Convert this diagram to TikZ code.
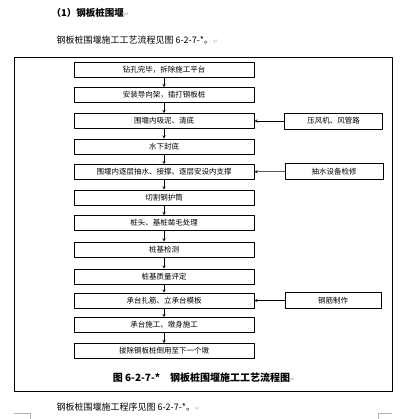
\documentclass[tikz,border=0pt]{standalone}
\usepackage{fontspec}
\setmainfont{Noto Sans CJK SC}
\newfontfamily\markfont{DejaVu Sans}
\newcommand{\retmark}{{\color{gray!60}\markfont\fontsize{6}{6}\selectfont ↵}}
\tikzset{
  flowbox/.style={draw,line width=0.6pt,minimum width=180pt,minimum height=15pt,inner sep=0pt,
    font=\fontsize{7.5}{8}\selectfont},
  sidebox/.style={draw,line width=0.6pt,minimum width=98pt,minimum height=16pt,inner sep=0pt,
    font=\fontsize{7.5}{8}\selectfont},
  flowarrow/.style={->,>=stealth,line width=0.5pt}
}
\begin{document}
\begin{tikzpicture}[line cap=round,line join=round,x=1pt,y=-1pt]
		\useasboundingbox (0,0) rectangle (417,419);
		% heading and text above the figure
		\node[anchor=west,font=\bfseries\fontsize{9.5}{10}\selectfont] (head) at (48,13) {（1）钢板桩围堰\retmark};
		\node[anchor=west,font=\fontsize{9}{10}\selectfont] (intro) at (53,40) {钢板桩围堰施工工艺流程见图 6-2-7-*。\retmark};
		\draw[line width=0.8pt] (14,57) rectangle (392,391);
		% main flow
		\node[flowbox] (s1) at (164,69.5) {钻孔完毕，拆除施工平台};
		\node[flowbox] (s2) at (164,95) {安装导向架，插打钢板桩};
		\node[flowbox] (s3) at (164,121) {围堰内吸泥、清底};
		\node[flowbox] (s4) at (164,146.5) {水下封底};
		\node[flowbox] (s5) at (164,172) {围堰内逐层抽水、接撑、逐层安设内支撑};
		\node[flowbox] (s6) at (164,197.5) {切割钢护筒};
		\node[flowbox] (s7) at (164,223) {桩头、基桩凿毛处理};
		\node[flowbox] (s8) at (164,249.5) {桩基检测};
		\node[flowbox] (s9) at (164,276.5) {桩基质量评定};
		\node[flowbox] (s10) at (164,300.5) {承台扎筋、立承台模板};
		\node[flowbox] (s11) at (164,325) {承台施工、墩身施工};
		\node[flowbox] (s12) at (164,351) {拔除钢板桩倒用至下一个墩};
		\foreach \a/\b in {s1/s2,s2/s3,s3/s4,s4/s5,s5/s6,s6/s7,s7/s8,s8/s9,s9/s10,s10/s11,s11/s12}
			\draw[flowarrow] (\a) -- (\b);
		% side inputs
		\node[sidebox] (air) at (333.5,121) {压风机、风管路};
		\node[sidebox] (pump) at (334,171.5) {抽水设备检修};
		\node[sidebox,minimum width=96pt] (rebar) at (333,300.5) {钢筋制作};
		\draw[flowarrow] (air) -- (s3);
		\draw[flowarrow] (pump) -- (s5);
		\draw[flowarrow] (rebar) -- (s10);
		% caption and text below
		\node[font=\bfseries\fontsize{10}{11}\selectfont] (cap) at (204,378) {图 6-2-7-*\quad 钢板桩围堰施工工艺流程图\retmark};
		\node[anchor=west,font=\fontsize{9}{10}\selectfont] (after) at (53,407) {钢板桩围堰施工程序见图 6-2-7-*。\retmark};
		\draw[gray!60,line width=0.4pt] (14,413) -- (30,413) -- (30,419);
		\draw[gray!60,line width=0.4pt] (392,413) -- (378,413) -- (378,419);
\end{tikzpicture}
\end{document}
